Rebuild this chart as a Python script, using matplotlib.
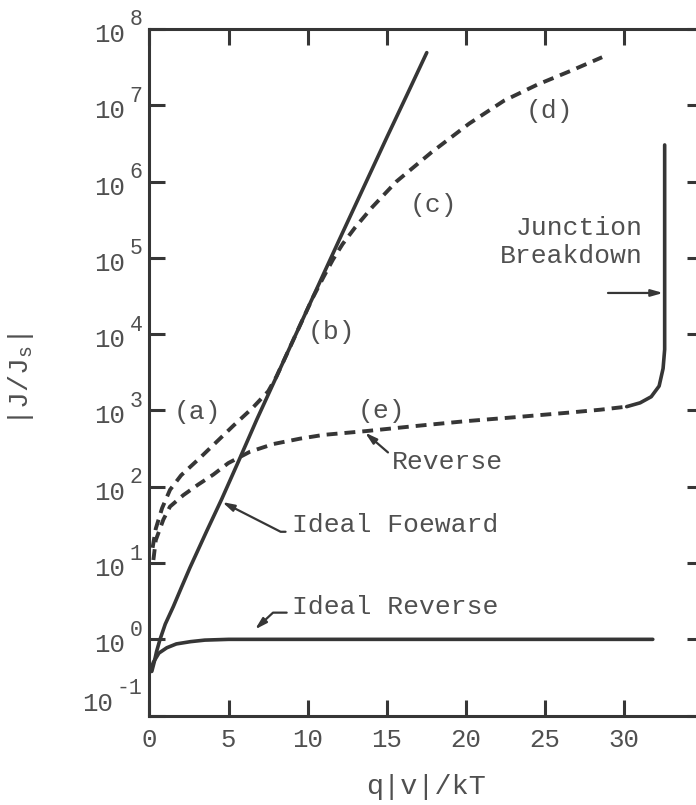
import numpy as np
import matplotlib
matplotlib.use('Agg')
import matplotlib.pyplot as plt
from matplotlib.ticker import FixedLocator, NullFormatter, NullLocator

plt.rcParams['font.family'] = ['Liberation Mono', 'DejaVu Sans Mono']
plt.rcParams['mathtext.fontset'] = 'custom'
plt.rcParams['mathtext.rm'] = 'Liberation Mono'
plt.rcParams['mathtext.it'] = 'Liberation Mono'

ink = '#363636'
txt = '#505050'

# ideal forward (solid), log10 of |J/Js|
fwd_x = [0.15, 0.3, 0.45, 0.67, 1.0, 1.51, 2.0, 2.56, 3.62, 4.57, 5.62, 6.78, 8.04, 9.3, 10.78, 12.0, 13.5,
         15.0, 16.3, 17.52]
fwd_log = [-0.42, -0.3, -0.16, 0.0, 0.2, 0.43, 0.67, 0.94, 1.42, 1.84, 2.33, 2.88, 3.45, 4.02, 4.69, 5.24, 5.91,
           6.58, 7.15, 7.69]

# ideal reverse (solid)
rev_x = [0.0, 0.25, 0.6, 1.1, 1.7, 2.6, 3.5, 5.0, 31.8]
rev_log = [-0.44, -0.30, -0.18, -0.11, -0.06, -0.03, -0.01, 0.0, 0.0]

# curves (a)-(b)-(c)-(d) (dashed)
abcd_x = [0.2, 0.4, 0.8, 1.3, 2.0, 3.2, 4.3, 5.3, 6.5, 7.5, 8.04, 9.3, 10.3, 11.0, 11.6, 12.2, 13.0, 14.1, 15.6,
          17.8, 20.2, 22.4, 24.5, 26.6, 28.6]
abcd_log = [1.2, 1.45, 1.72, 1.96, 2.15, 2.38, 2.6, 2.8, 3.03, 3.25, 3.45, 4.02, 4.47, 4.75, 4.98, 5.18, 5.4, 5.67,
            6.0, 6.38, 6.76, 7.06, 7.27, 7.45, 7.63]

# curve (e) reverse (dashed)
e_x = [0.25, 0.4, 0.88, 1.3, 2.14, 3.09, 4.04, 4.98, 6.36, 7.83, 9.5, 11.0, 13.7, 17.0, 20.0, 23.0, 26.4, 28.5, 30.15]
e_log = [1.04, 1.3, 1.57, 1.74, 1.89, 2.03, 2.16, 2.31, 2.46, 2.56, 2.63, 2.68, 2.73, 2.80, 2.86, 2.91, 2.97, 3.01, 3.05]

# junction breakdown (solid)
bd_x = [30.15, 31.0, 31.7, 32.2, 32.45, 32.55, 32.55]
bd_log = [3.05, 3.1, 3.18, 3.32, 3.55, 3.8, 6.48]

xticks = [0, 5, 10, 15, 20, 25, 30]
ydecades = list(range(-1, 9))

fig = plt.figure(figsize=(6.96, 8.05), dpi=100)
ax = fig.add_axes([0.2147, 0.111, 0.796, 0.853])

def lg(v):
    return 10 ** np.array(v)

ax.plot(fwd_x, lg(fwd_log), color=ink, lw=2.6, solid_capstyle='round')
ax.plot(rev_x, lg(rev_log), color=ink, lw=2.6, solid_capstyle='round')
ax.plot(abcd_x, lg(abcd_log), color=ink, lw=2.8, dashes=(2.8, 1.8))
ax.plot(e_x, lg(e_log), color=ink, lw=2.8, dashes=(2.8, 1.8))
ax.plot(bd_x, lg(bd_log), color=ink, lw=2.6, solid_capstyle='round')

ax.set_yscale('log')
ax.set_xlim(0, 35)
ax.set_ylim(1e-1, 1e8)

ax.xaxis.set_major_locator(FixedLocator(xticks))
ax.yaxis.set_major_locator(FixedLocator([10.0 ** d for d in ydecades]))
ax.yaxis.set_minor_locator(NullLocator())
ax.xaxis.set_minor_locator(NullLocator())
ax.yaxis.set_major_formatter(NullFormatter())

ax.tick_params(which='major', direction='in', length=11.5, width=2.2, color=ink,
               top=True, right=True, labelsize=18.5, labelcolor=txt)
ax.tick_params(axis='x', pad=9)
for s in ax.spines.values():
    s.set_linewidth(2.2)
    s.set_color(ink)

# typewriter style "10" with a big exponent, hand placed beside each decade tick
ytr = ax.get_yaxis_transform()
for d in ydecades:
    dy = -6 if d >= 0 else 12
    exp_s = str(d)
    ax.annotate('10', xy=(0, 10.0 ** d), xycoords=ytr, xytext=(-24 - 12.5 * (len(exp_s) - 1), dy),
                textcoords='offset pixels', ha='right', va='center', fontsize=18.5, color=txt,
                annotation_clip=False)
    ax.annotate(exp_s, xy=(0, 10.0 ** d), xycoords=ytr, xytext=(-7, dy + 15),
                textcoords='offset pixels', ha='right', va='center', fontsize=15.5, color=txt,
                annotation_clip=False)

ax.set_xlabel('q|v|/kT', fontsize=20.5, color=txt, labelpad=16)
ax.set_ylabel(r'$|\mathrm{J/J_s}|$', fontsize=20.5, color=txt)
ax.yaxis.set_label_coords(-0.205, 0.49)

fs = 19
ax.text(3.04, 10 ** 2.98, '(a)', fontsize=fs, color=txt, ha='center', va='center')
ax.text(11.52, 10 ** 4.03, '(b)', fontsize=fs, color=txt, ha='center', va='center')
ax.text(17.93, 10 ** 5.69, '(c)', fontsize=fs, color=txt, ha='center', va='center')
ax.text(25.3, 10 ** 6.92, '(d)', fontsize=fs, color=txt, ha='center', va='center')
ax.text(14.67, 10 ** 2.99, '(e)', fontsize=fs, color=txt, ha='center', va='center')

arrow = dict(arrowstyle='-|>,head_length=0.7,head_width=0.2', color=ink, lw=1.6,
             shrinkA=0, shrinkB=0)

ax.text(15.32, 10 ** 2.33, 'Reverse', fontsize=fs, color=txt, ha='left', va='center')
ax.annotate('', xy=(13.62, 10 ** 2.71), xytext=(15.07, 10 ** 2.45), arrowprops=arrow)

ax.text(8.99, 10 ** 1.50, 'Ideal Foeward', fontsize=fs, color=txt, ha='left', va='center')
ax.annotate('', xy=(4.6, 10 ** 1.8), xytext=(8.6, 10 ** 1.41),
            arrowprops=dict(arrow, connectionstyle='angle,angleA=0,angleB=153,rad=0'))

ax.text(8.99, 10 ** 0.43, 'Ideal Reverse', fontsize=fs, color=txt, ha='left', va='center')
ax.annotate('', xy=(6.67, 10 ** 0.13), xytext=(8.67, 10 ** 0.35),
            arrowprops=dict(arrow, connectionstyle='angle,angleA=0,angleB=43,rad=0'))

ax.text(31.18, 10 ** 5.21, 'Junction\nBreakdown', fontsize=fs, color=txt,
        ha='right', va='center', multialignment='right', linespacing=1.2)
ax.annotate('', xy=(32.45, 10 ** 4.54), xytext=(28.97, 10 ** 4.54), arrowprops=arrow)

fig.savefig('out.png', dpi=100)
